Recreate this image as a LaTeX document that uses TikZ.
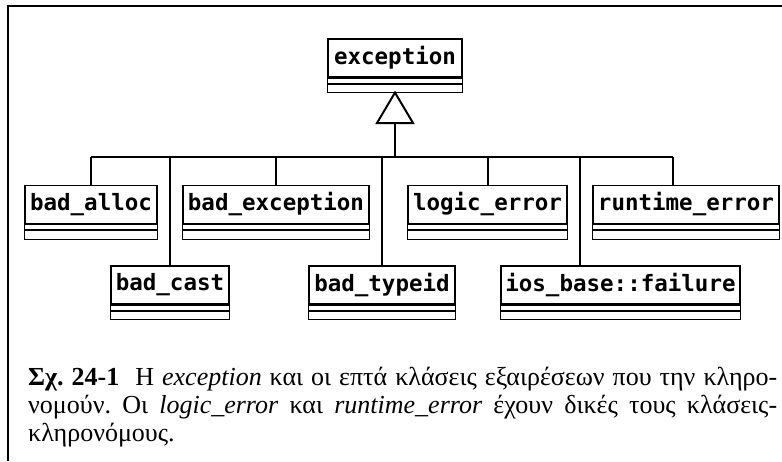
\documentclass[tikz,border=0pt]{standalone}
\usepackage{fontspec}
\newfontfamily\clsfont{DejaVu Sans Mono}
\newfontfamily\capfont{Liberation Serif}
\begin{document}
\begin{tikzpicture}[x=1pt,y=-1pt,
  cls/.style={draw, line width=1.2pt, inner sep=0pt, minimum height=38pt,
    font=\clsfont\bfseries\fontsize{22.5}{24}\selectfont},
  conn/.style={line width=2pt},
  sep/.style={line width=2pt},
  frame/.style={line width=2.2pt}]
\useasboundingbox (0,0) rectangle (782,461);
\draw[frame] (8,461) -- (8,6) -- (782,6);
% classes
\foreach \n/\t/\x/\y/\w in {
  exc/exception/395/58/134,
  alloc/bad\_alloc/91/204.5/132,
  bexc/bad\_exception/276/204.5/186,
  logic/logic\_error/487.5/204.5/159,
  run/runtime\_error/686/204.5/186,
  cast/bad\_cast/170/285/118,
  typeid/bad\_typeid/382/285/146,
  ios/ios\_base::failure/620.5/285/239}{
  \node[cls, minimum width=\w pt] (\n) at (\x,\y) {\t};
  \draw[line width=1.2pt] (\n.south west) rectangle ([yshift=-15pt]\n.south east);
  \draw[sep] (\n.south west) -- (\n.south east);
  \draw[sep] ([yshift=-6pt]\n.south west) -- ([yshift=-6pt]\n.south east);
}
% inheritance
\coordinate (apex) at ([yshift=-15pt]exc.south);
\coordinate (tribase) at (395,123);
\coordinate (bus) at (395,157);
\coordinate (ioscon) at (580,157);
\coordinate (runcon) at (673,157);
\draw[conn, fill=white, line join=miter] (apex) -- (377,123) -- (413,123) -- cycle;
\draw[conn] (tribase) -- (bus);
\draw[conn] (alloc.north |- bus) -- (runcon);
\draw[conn] (alloc.north) -- (alloc.north |- bus);
\draw[conn] (bexc.north) -- (bexc.north |- bus);
\draw[conn] (logic.north) -- (logic.north |- bus);
\draw[conn] (cast.north) -- (cast.north |- bus);
\draw[conn] (typeid.north) -- (typeid.north |- bus);
\draw[conn] (ioscon) -- (ioscon |- ios.north);
\draw[conn] (runcon) -- (runcon |- run.north);
% caption
\node[anchor=base west, inner sep=0pt, text width=749pt, align=justify,
  font=\capfont\fontsize{26}{28}\selectfont\frenchspacing] (cap) at (28,385)
  {\textbf{Σχ. 24-1}\ \ Η \textit{exception} και οι επτά κλάσεις εξαιρέσεων που την κληρο-\linebreak
   νομούν. Οι \textit{logic\_error} και \textit{runtime\_error} έχουν δικές τους κλάσεις-\linebreak
   κληρονόμους.};
\end{tikzpicture}
\end{document}
